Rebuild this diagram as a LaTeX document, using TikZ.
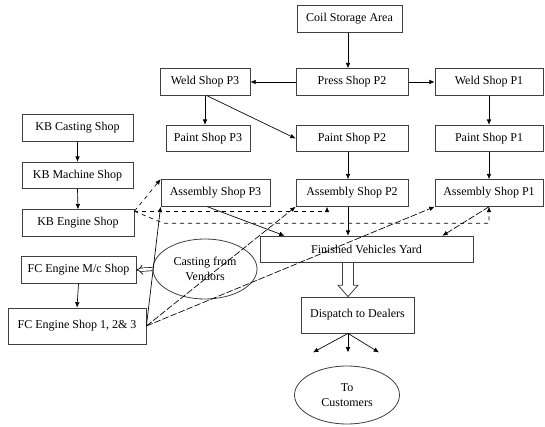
\documentclass[tikz,border=0pt]{standalone}
\usepackage{fontspec}
\setmainfont{Liberation Serif}
\usetikzlibrary{arrows.meta,calc,shapes.geometric}

\tikzset{
  shop/.style={draw=black!75, line width=0.6pt, rectangle, minimum height=20pt,
    inner sep=1pt, font=\fontsize{9}{10}\selectfont},
  oval/.style={draw=black!75, line width=0.6pt, ellipse, inner sep=0pt,
    align=center, font=\fontsize{9}{11}\selectfont},
  flow/.style={-{Latex[length=4pt,width=3.5pt]}, line width=0.5pt},
  kbdash/.style={flow, dashed},
  fcdash/.style={flow, dash pattern=on 5pt off 1.5pt},
  hollow/.style={double, double distance=#1, line width=0.5pt, -{Implies}},
  block/.style={draw=black!75, line width=0.6pt, fill=white, line join=miter},
}

\begin{document}
\begin{tikzpicture}[x=0.75pt, y=-0.75pt]
  \useasboundingbox (0,0) rectangle (545,427);

  % Mittelachse
  \coordinate (axis) at (348,0);

  % Presswerk und Karosserie
  \node[shop, minimum width=78.75pt] (coil)  at (349.5,19)  {Coil Storage Area};
  \node[shop, minimum width=84pt]    (press) at (352,82)    {Press Shop P2};
  \node[shop, minimum width=67.5pt]  (weld3) at (205,82)    {Weld Shop P3};
  \node[shop, minimum width=81pt]    (weld1) at (489,82)    {Weld Shop P1};
  \node[shop, minimum width=63pt]    (paint3) at (208,138.5) {Paint Shop P3};
  \node[shop, minimum width=84pt]    (paint2) at (352,138.5) {Paint Shop P2};
  \node[shop, minimum width=81pt]    (paint1) at (489,138.5) {Paint Shop P1};
  \node[shop, minimum width=81.75pt] (asm3)  at (215.5,193) {Assembly Shop P3};
  \node[shop, minimum width=84pt]    (asm2)  at (352,193)   {Assembly Shop P2};
  \node[shop, minimum width=81pt]    (asm1)  at (489,193)   {Assembly Shop P1};

  % Motoren
  \node[shop, minimum width=83.25pt] (kbc) at (77.5,128)  {KB Casting Shop};
  \node[shop, minimum width=83.25pt] (kbm) at (77.5,175.5) {KB Machine Shop};
  \node[shop, minimum width=84pt]    (kbe) at (78,223)    {KB Engine Shop};
  \node[shop, minimum width=86.25pt] (fcm) at (78.5,270)  {FC Engine M/c Shop};
  \node[shop, minimum width=103.5pt, minimum height=27pt] (fce) at (77,326) {FC Engine Shop 1, 2\& 3};
  \node[oval, minimum width=78pt, minimum height=45pt] (cast) at (205,269) {Casting from\\Vendors};

  % Versand
  \node[shop, minimum width=159.75pt] (fvy)  at (366.5,249.5) {Finished Vehicles Yard};
  \node[shop, minimum width=84.75pt, minimum height=27pt] (disp) at (357.5,315) {Dispatch to Dealers};
  \node[oval, minimum width=78.75pt, minimum height=43.5pt] (cust) at (347,395) {To\\Customers};

  % Karosserie-Fluss
  \draw[flow] (coil.south -| axis) -- (press.north -| axis);
  \draw[flow] (press.west) -- (weld3.east);
  \draw[flow] (press.east) -- (weld1.west);
  \draw[flow] (weld3.south) -- (weld3.south |- paint3.north);
  \draw[flow] ($(weld3.south)+(2,0)$) -- (paint2.west);
  \draw[flow] (weld1.south) -- (paint1.north);
  \draw[flow] (paint2.south -| axis) -- (asm2.north -| axis);
  \draw[flow] (paint1.south) -- (asm1.north);

  % Montage zum Hof
  \draw[flow] ($(asm3.south)+(-8,0)$) -- ($(fvy.north west)+(25,0)$);
  \draw[flow] (asm2.south -| axis) -- (fvy.north -| axis);
  \draw[fcdash] (asm1.south) -- ($(fvy.north east)+(-31,0)$);

  % KB Motoren
  \draw[flow] (kbc.south) -- (kbm.north);
  \draw[flow] (kbm.south) -- (kbe.north);
  \coordinate (kbo) at ($(kbe.north east)+(0,2)$);
  \coordinate (kbt) at ($(kbo)+(29,12)$);
  \draw[kbdash] (kbo) -- (asm3.north west);
  \draw[kbdash] (kbo) -| ($(asm2.south)+(-25,0)$);
  \draw[kbdash] (kbo) -- (kbt) -| (asm1.south);

  % FC Motoren
  \draw[flow] (fcm.south) -- (fce.north);
  \draw[hollow=2pt] (cast.west) -- (fcm.east);
  \draw[flow] (fce.east) -- (asm3.south west);
  \draw[fcdash] (fce.east) -- (asm2.south west);
  \draw[fcdash] (fce.east) -- (asm1.south west);

  % Hof zum Haendler (Blockpfeil)
  \coordinate (ytop) at (fvy.south -| axis);
  \coordinate (ytip) at (disp.north -| axis);
  \draw[block] ($(ytop)+(-5.5,0)$) -- ($(ytop)+(-5.5,22)$) -- ($(ytop)+(-10,22)$)
    -- (ytip) -- ($(ytop)+(10,22)$) -- ($(ytop)+(5.5,22)$) -- ($(ytop)+(5.5,0)$);

  \foreach \dx [count=\i] in {-35,0,31}{
    \coordinate (end\i) at ($(disp.south -| axis)+(\dx,19)$);
    \draw[flow] (disp.south -| axis) -- (end\i);
  }

\end{tikzpicture}
\end{document}
